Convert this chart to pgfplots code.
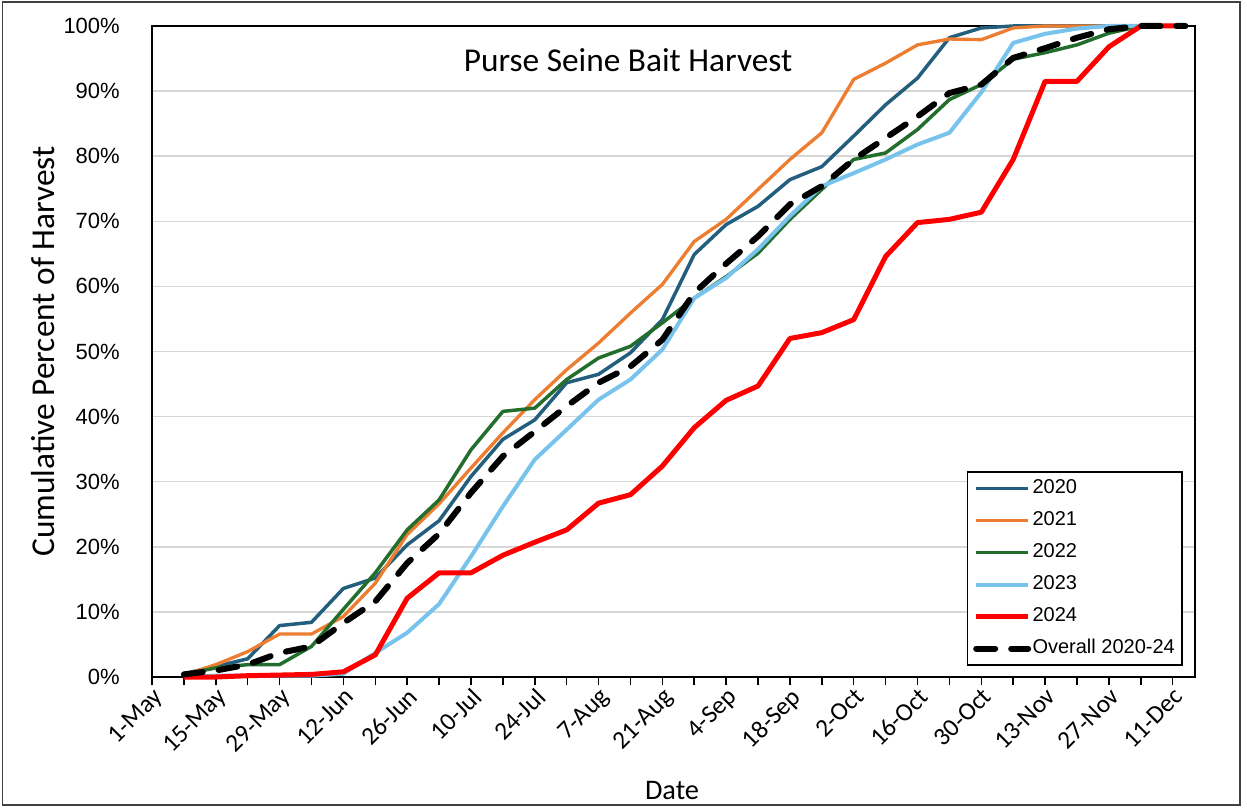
\documentclass[border=0pt]{standalone}
\usepackage{pgfplots}
\pgfplotsset{compat=1.18}
\usepackage{pgfplotstable}
\usepackage{fontspec}
\setmainfont{Liberation Sans}
\newfontfamily\carl{Carlito}

\definecolor{c2020}{RGB}{35,95,125}
\definecolor{c2021}{RGB}{237,125,49}
\definecolor{c2022}{RGB}{35,110,45}
\definecolor{c2023}{RGB}{120,195,235}
\definecolor{c2024}{RGB}{255,0,0}
\definecolor{gridc}{RGB}{215,215,215}

\pgfplotstableread{
wk y20 y21 y22 y23 y24 yall
1 0.5 0.3 0.4 0.0 0.0 0.4
2 1.6 1.9 1.4 0.2 0.0 1.0
3 2.8 3.9 1.9 0.2 0.2 1.9
4 7.9 6.6 1.9 0.2 0.3 3.7
5 8.4 6.6 4.7 0.2 0.4 4.7
6 13.6 9.3 10.4 0.5 0.8 8.3
7 15.2 14.4 16.0 3.7 3.4 11.6
8 20.3 21.9 22.6 6.8 12.1 17.5
9 24.0 26.6 27.2 11.2 16.0 22.0
10 30.8 32.1 34.9 18.5 16.0 28.3
11 36.5 37.5 40.8 26.2 18.7 33.9
12 39.5 42.6 41.3 33.4 20.7 37.7
13 45.2 47.2 45.7 38.0 22.6 41.6
14 46.5 51.3 49.0 42.6 26.7 45.2
15 49.8 55.9 50.8 45.7 28.0 47.7
16 54.9 60.3 54.4 50.3 32.4 51.8
17 64.9 66.9 58.2 58.2 38.3 59.0
18 69.5 70.3 61.5 61.3 42.5 63.5
19 72.3 74.9 65.1 65.7 44.7 67.7
20 76.4 79.5 70.3 70.8 52.0 72.6
21 78.4 83.6 74.9 75.4 52.9 75.4
22 83.1 91.8 79.5 77.4 54.9 79.5
23 87.9 94.3 80.5 79.5 64.6 82.8
24 92.0 97.1 84.1 81.8 69.8 86.1
25 98.2 98.0 88.7 83.6 70.3 89.7
26 99.7 97.9 91.0 89.8 71.4 91.0
27 100 99.7 94.9 97.4 79.5 95.1
28 100 100 95.9 98.8 91.5 96.6
29 100 100 97.1 99.6 91.5 98.2
30 100 100 98.9 100 96.8 99.5
31 100 100 100 100 100 100
32 100 100 100 100 100 100
32.4 100 100 100 100 100 100
}\harvest

\begin{document}
\begin{tikzpicture}
\useasboundingbox (0,0) rectangle (748.2pt,485.4pt);
\draw[black!75, line width=0.8pt] (1.5pt,2.4pt) rectangle (744pt,484.2pt);
\begin{axis}[
  at={(91.2pt,79.2pt)}, anchor=south west,
  scale only axis, width=625.8pt, height=390.6pt,
  xmin=0, xmax=32.7, ymin=0, ymax=100,
  clip=false,
  axis line style={black, line width=0.9pt},
  xtick={0,2,...,32},
  minor xtick={1,3,...,31},
  xticklabels={1-May,15-May,29-May,12-Jun,26-Jun,10-Jul,24-Jul,7-Aug,21-Aug,4-Sep,18-Sep,2-Oct,16-Oct,30-Oct,13-Nov,27-Nov,11-Dec},
  xtick pos=bottom, tick align=outside,
  major tick length=4.8pt, minor tick length=4.8pt,
  every tick/.style={black, line width=0.9pt},
  xticklabel style={font=\carl\fontsize{15.2}{17}\selectfont, rotate=45, anchor=north east, inner sep=0.5pt},
  ytick={0,10,...,100},
  yticklabels={0\%,10\%,20\%,30\%,40\%,50\%,60\%,70\%,80\%,90\%,100\%},
  ytick style={draw=none},
  yticklabel style={font=\fontsize{13.2}{15}\selectfont, anchor=east, xshift=-11pt},
  ymajorgrids, grid style={gridc, line width=0.9pt},
  xlabel={Date},
  xlabel style={font=\carl\fontsize{17}{20}\selectfont, at={(axis description cs:0.4986,-0.1736)}, anchor=center},
  ylabel={Cumulative Percent of Harvest},
  ylabel style={font=\carl\fontsize{20}{24}\selectfont, at={(axis description cs:-0.1045,0.5)}, anchor=center},
  legend style={at={(0.781,0.017)}, anchor=south west, draw=black, line width=0.9pt,
    font=\fontsize{12}{14}\selectfont, inner xsep=3.5pt, inner ysep=3.5pt,
    nodes={inner sep=0.8pt, text height=8.8pt, text depth=2.6pt},
    row sep=6.2pt},
  legend cell align=left,
  legend image code/.code={\draw[#1] (0pt,0pt) -- (31.2pt,0pt);},
  every axis plot/.append style={line join=round},
]
\addplot[c2020, line width=2.1pt] table[x=wk, y=y20] {\harvest};
\addlegendentry{2020}
\addplot[c2021, line width=2.0pt] table[x=wk, y=y21] {\harvest};
\addlegendentry{2021}
\addplot[c2022, line width=2.1pt] table[x=wk, y=y22] {\harvest};
\addlegendentry{2022}
\addplot[c2023, line width=2.4pt] table[x=wk, y=y23] {\harvest};
\addlegendentry{2023}
\addplot[c2024, line width=3.0pt] table[x=wk, y=y24] {\harvest};
\addlegendentry{2024}
\addplot[black, line width=3.6pt, line cap=round, dash pattern=on 11.4pt off 9.6pt] table[x=wk, y=yall] {\harvest};
\addlegendentry{Overall 2020-24}
\node[font=\carl\fontsize{20}{24}\selectfont] at (axis description cs:0.4564,0.9478) {Purse Seine Bait Harvest};
\end{axis}
\end{tikzpicture}
\end{document}
